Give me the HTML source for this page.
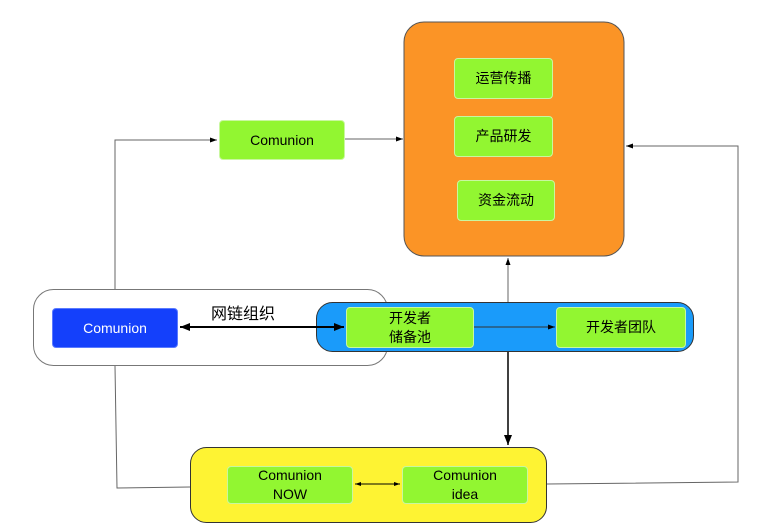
<!DOCTYPE html>
<html><head><meta charset="utf-8"><style>
body{margin:0;width:768px;height:531px;background:#fff;position:relative;overflow:hidden;font-family:"Liberation Sans","Noto Sans CJK SC",sans-serif;}
.b{position:absolute;box-sizing:border-box;display:flex;align-items:center;justify-content:center;text-align:center;font-size:14px;color:#000;line-height:19px;}
.g{background:#92f631;border:1px solid #c9f7a0;border-radius:4px;}
</style></head><body>
<svg width="768" height="531" style="position:absolute;left:0;top:0">
<defs>
<marker id="a" markerWidth="8" markerHeight="8" refX="7" refY="4" orient="auto" markerUnits="userSpaceOnUse"><path d="M0,1.5 L7,4 L0,6.5z" fill="#000"/></marker>
<marker id="ab" markerWidth="12" markerHeight="12" refX="10" refY="6" orient="auto-start-reverse" markerUnits="userSpaceOnUse"><path d="M0,2 L10,6 L0,10z" fill="#000"/></marker>
<marker id="as" markerWidth="8" markerHeight="8" refX="6" refY="4" orient="auto-start-reverse" markerUnits="userSpaceOnUse"><path d="M0,2 L6,4 L0,6z" fill="#000"/></marker>
</defs>
<rect x="404" y="22" width="220" height="234" rx="20" fill="#fb9426" stroke="#555"/>
<rect x="33.5" y="289.5" width="354" height="76" rx="20" fill="#fff" stroke="#777"/>
<rect x="316.5" y="302.5" width="377" height="49" rx="16" fill="#1a9bfa" stroke="#333"/>
<rect x="190.5" y="447.5" width="356" height="75" rx="16" fill="#fef333" stroke="#333"/>
<polyline points="115,289 115,140 217,140" fill="none" stroke="#666" marker-end="url(#a)"/>
<line x1="345" y1="139" x2="403" y2="139" stroke="#666" marker-end="url(#a)"/>
<polyline points="547,484 738,482 738,146 626,146" fill="none" stroke="#666" marker-end="url(#a)"/>
<line x1="508" y1="302" x2="508" y2="258" stroke="#666" marker-end="url(#a)"/>
<polyline points="115,366 117,488 190,487" fill="none" stroke="#666"/>
<line x1="180" y1="327" x2="344" y2="327" stroke="#000" stroke-width="2" marker-start="url(#ab)" marker-end="url(#ab)"/>
<line x1="474" y1="327" x2="555" y2="327" stroke="#333" marker-end="url(#a)"/>
<line x1="508" y1="352" x2="508" y2="445" stroke="#000" stroke-width="1.5" marker-end="url(#ab)"/>
<line x1="355" y1="484" x2="400" y2="484" stroke="#000" marker-start="url(#as)" marker-end="url(#as)"/>
</svg>
<div class="b g" style="left:454px;top:58px;width:99px;height:41px">运营传播</div>
<div class="b g" style="left:454px;top:116px;width:99px;height:41px">产品研发</div>
<div class="b g" style="left:457px;top:180px;width:98px;height:41px">资金流动</div>
<div class="b g" style="left:219px;top:120px;width:126px;height:40px">Comunion</div>
<div class="b" style="left:52px;top:308px;width:126px;height:40px;background:#1440fb;border-radius:4px;color:#fff;border:1px solid #5a7bff">Comunion</div>
<div class="b" style="left:203px;top:303px;width:80px;height:22px;font-size:16px">网链组织</div>
<div class="b g" style="left:346px;top:307px;width:128px;height:41px">开发者<br>储备池</div>
<div class="b g" style="left:556px;top:307px;width:130px;height:41px">开发者团队</div>
<div class="b g" style="left:227px;top:466px;width:126px;height:38px">Comunion<br>NOW</div>
<div class="b g" style="left:402px;top:466px;width:126px;height:38px">Comunion<br>idea</div>
</body></html>
